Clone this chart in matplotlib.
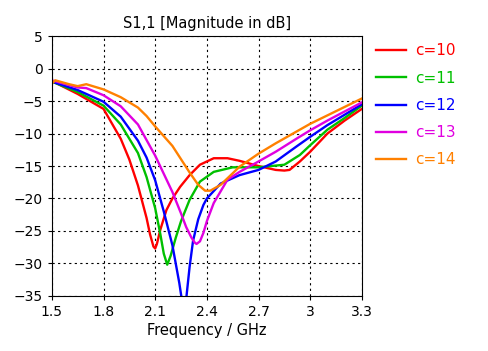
import numpy as np
import matplotlib.pyplot as plt

# frequencies (GHz) and S11 (dB)
f10 = [1.5, 1.65, 1.8, 1.9, 1.95, 2.0, 2.05, 2.07, 2.09, 2.1, 2.11, 2.13, 2.165, 2.2, 2.245, 2.3, 2.36, 2.44, 2.52, 2.59, 2.7, 2.8, 2.85, 2.88, 2.94, 3.0, 3.1, 3.2, 3.3]
s10 = [-1.9, -3.9, -6.2, -10.8, -14.0, -18.0, -23.0, -25.5, -27.4, -27.7, -27.0, -24.8, -21.8, -20.0, -18.2, -16.4, -14.8, -13.8, -13.8, -14.2, -15.0, -15.6, -15.7, -15.6, -14.3, -12.8, -10.0, -8.0, -6.2]

f11 = [1.5, 1.65, 1.8, 1.9, 2.0, 2.05, 2.1, 2.13, 2.15, 2.17, 2.19, 2.22, 2.25, 2.3, 2.36, 2.44, 2.55, 2.7, 2.85, 2.94, 3.0, 3.1, 3.2, 3.3]
s11 = [-2.0, -3.6, -5.7, -8.6, -13.0, -16.7, -21.5, -25.5, -28.5, -30.2, -28.8, -26.0, -23.5, -20.2, -17.4, -15.9, -15.2, -15.2, -14.8, -13.3, -11.8, -9.4, -7.6, -5.7]

f12 = [1.5, 1.65, 1.8, 1.9, 2.0, 2.05, 2.1, 2.15, 2.2, 2.24, 2.26, 2.28, 2.3, 2.32, 2.35, 2.38, 2.4, 2.48, 2.59, 2.7, 2.8, 2.92, 3.0, 3.1, 3.2, 3.3]
s12 = [-2.0, -3.3, -5.1, -7.4, -11.1, -13.7, -17.2, -22.0, -27.2, -33.0, -36.5, -35.5, -30.5, -26.5, -23.2, -21.0, -20.0, -17.7, -16.4, -15.6, -14.3, -12.0, -10.5, -8.7, -7.1, -5.5]

f13 = [1.5, 1.65, 1.7, 1.8, 1.9, 2.0, 2.1, 2.2, 2.25, 2.28, 2.31, 2.33, 2.34, 2.36, 2.38, 2.4, 2.44, 2.52, 2.59, 2.7, 2.8, 2.92, 3.0, 3.1, 3.2, 3.3]
s13 = [-1.8, -2.9, -3.0, -4.1, -5.8, -8.6, -13.4, -19.0, -22.3, -24.4, -26.0, -26.8, -27.0, -26.6, -25.3, -23.5, -20.7, -17.1, -15.9, -14.3, -12.8, -10.8, -9.5, -8.0, -6.6, -5.2]

f14 = [1.5, 1.52, 1.6, 1.65, 1.7, 1.8, 1.9, 2.0, 2.05, 2.1, 2.2, 2.3, 2.35, 2.39, 2.42, 2.48, 2.59, 2.7, 2.8, 2.92, 3.0, 3.1, 3.2, 3.3]
s14 = [-2.3, -1.8, -2.4, -2.7, -2.4, -3.2, -4.4, -6.0, -7.3, -8.9, -11.9, -16.0, -17.9, -18.8, -18.8, -17.9, -15.1, -13.1, -11.5, -9.7, -8.5, -7.2, -5.9, -4.6]

labels = ["c=10", "c=11", "c=12", "c=13", "c=14"]
colors = ["#ff0000", "#00c000", "#0000ff", "#e000e0", "#ff8000"]
xticks = [1.5, 1.8, 2.1, 2.4, 2.7, 3, 3.3]
xticklabels = ["1.5", "1.8", "2.1", "2.4", "2.7", "3", "3.3"]

plt.rcParams['font.family'] = ['DejaVu Sans']
fig = plt.figure(figsize=(4.89, 3.51), dpi=100)
ax = fig.add_axes([0.106, 0.157, 0.634, 0.740])

series = [(f10, s10), (f11, s11), (f12, s12), (f13, s13), (f14, s14)]
for (f, s), lab, col in zip(series, labels, colors):
    ax.plot(f, s, color=col, lw=1.7, label=lab, solid_joinstyle='round')

ax.set_xlim(1.5, 3.3)
ax.set_ylim(-35, 5)
ax.set_xticks(xticks)
ax.set_xticklabels(xticklabels)
ax.set_yticks(np.arange(-35, 6, 5))
ax.tick_params(labelsize=10, length=3, direction='out')
ax.grid(True, color='black', linestyle=(0, (2, 3)), linewidth=0.8)
ax.set_title("S1,1 [Magnitude in dB]", fontsize=10.5, pad=6)
ax.set_xlabel("Frequency / GHz", fontsize=10.5, labelpad=3)

leg = ax.legend(loc='upper left', bbox_to_anchor=(1.0, 1.025), frameon=False,
                fontsize=11, handlelength=2.0, handletextpad=0.6, labelspacing=0.8)
for txt, col in zip(leg.get_texts(), colors):
    txt.set_color(col)

fig.savefig("out.png", dpi=100)
